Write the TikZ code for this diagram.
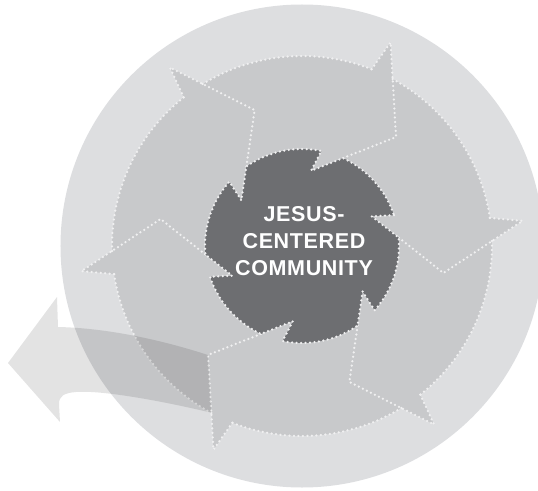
\documentclass[tikz,border=0pt]{standalone}
\usepackage{fontspec}
\setmainfont{Liberation Sans}[LetterSpace=3]
\usetikzlibrary{calc}

\definecolor{outerdisk}{RGB}{221,222,224}
\definecolor{ringgray}{RGB}{200,201,203}
\definecolor{hubgray}{RGB}{109,110,113}
\definecolor{dotwhite}{RGB}{240,240,241}

\begin{document}
\begin{tikzpicture}[
            x=1pt, y=1pt,
            dotline/.style={draw=dotwhite, line width=2.5pt, line cap=round, dash pattern=on 0pt off 4.5pt},
            hub/.style={fill=hubgray, dotline},
            hubtext/.style={text=white, align=center, inner sep=0pt,
                font=\bfseries\fontsize{21.5}{27.3}\selectfont},
            ]
            \useasboundingbox (-302,-244) rectangle (236,246);
            \fill[outerdisk] (0,0) circle (241.5);
            \fill[ringgray] (0,0) circle (190);
            % the six junctions between the arrows
            \foreach \k [evaluate=\k as \p using 6.5+60*\k] in {0,...,5} {
                \coordinate (B\k) at (\p:222);
                \coordinate (A\k) at (\p+2:190);
                \coordinate (C\k) at (\p-17.3:144);
                \coordinate (G\k) at (\p-1.5:97);
                \coordinate (P\k) at (\p+12:97);
                \coordinate (E\k) at ($(C\k)!1.6!(G\k)$);
                \coordinate (X\k) at ($(B\k)!0.387!(C\k)$);
                \fill[ringgray] (A\k) -- (B\k) -- (X\k) -- (0,0) -- cycle;
            }
            \foreach \k [evaluate=\k as \p using 6.5+60*\k] in {0,...,5}
                \draw[dotline] (X\k) arc[start angle=\p-5, end angle=\p-58, radius=190]
                    (A\k) -- (B\k) -- (C\k) -- (G\k);
            % arrow going out to the left
            \fill[black, fill opacity=0.11] (-294,-117) -- (-245,-51) -- (-244,-81)
                .. controls (-195,-82) and (-140,-94) .. (C4)
                -- ($(C4)!0.61!(B4)$)
                .. controls (-140,-155) and (-200,-144) .. (-226,-146)
                .. controls (-238,-147) and (-243,-150) .. (-243,-158)
                -- (-242,-176) -- cycle;
            % hub
            \filldraw[hub] (P0) \foreach \k [evaluate=\k as \p using 6.5+60*\k] in {0,5,4,3,2,1} {
                -- (E\k) -- (G\k) arc[start angle=\p-1.5, end angle=\p-48, radius=97]
            } -- cycle;
            \node[hubtext] (hubname) at (2,5) {JESUS-\\CENTERED\\COMMUNITY};
        \end{tikzpicture}
\end{document}
